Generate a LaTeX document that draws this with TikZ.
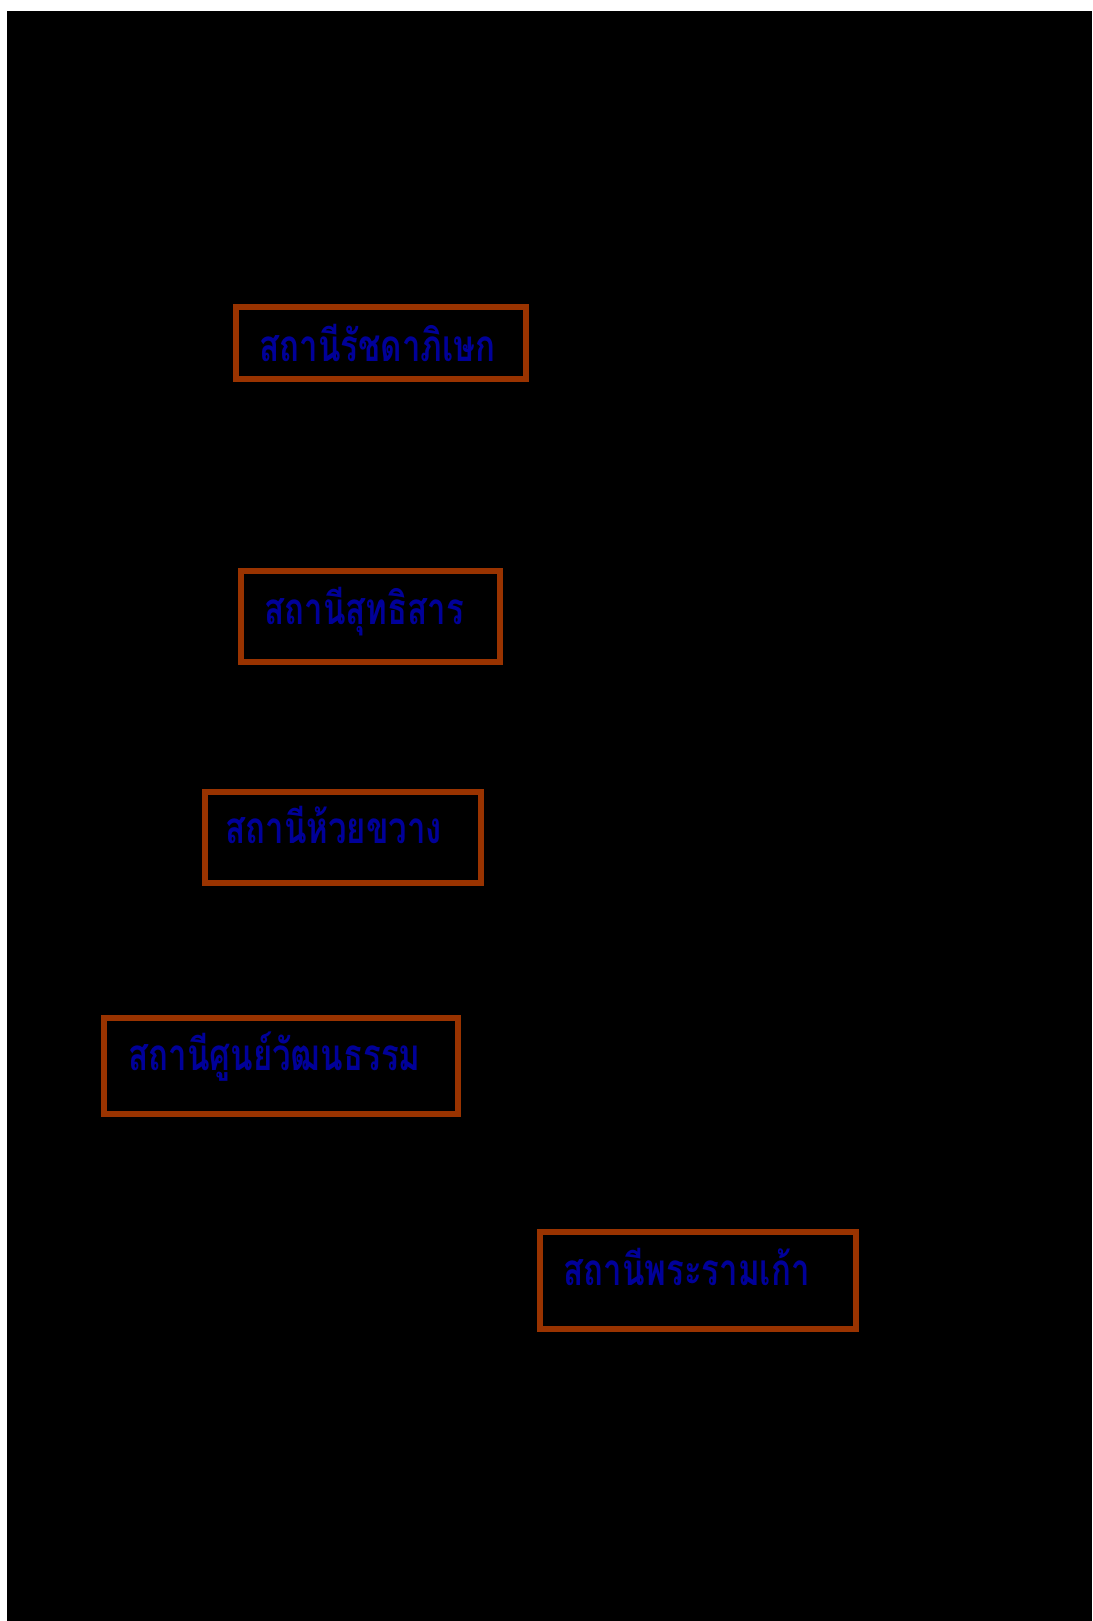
\documentclass[tikz,border=0pt]{standalone}
\usepackage{fontspec}
\newfontfamily\thaifont[Script=Thai, FakeStretch=0.75]{Loma}
\begin{document}
\begin{tikzpicture}[x=0.5pt, y=-0.5pt,
   stationbox/.style={draw=boxcol, line width=3pt, anchor=north west, inner sep=0pt},
   stationname/.style={anchor=base west, inner sep=0pt, text=namecol, font=\thaifont\bfseries\fontsize{22}{26}\selectfont}]
      \definecolor{boxcol}{HTML}{993300}
      \definecolor{namecol}{HTML}{000099}
      \useasboundingbox (0,0) rectangle (1092,1621);
      \fill[white] (0,0) rectangle (1092,1621);
      \fill[black] (7,11) rectangle (1092,1621);

      \node[stationbox, minimum width=145pt, minimum height=36pt, name=ratchada] at (233,304) {};
      \node[stationbox, minimum width=129.5pt, minimum height=45.5pt, name=sutthisan] at (238,568) {};
      \node[stationbox, minimum width=138pt, minimum height=45.5pt, name=huaykwang] at (202,789) {};
      \node[stationbox, minimum width=177pt, minimum height=48pt, name=culture] at (101,1015) {};
      \node[stationbox, minimum width=158pt, minimum height=48.5pt, name=rama] at (537,1229) {};

      \node[stationname, name=ratchadatext] at (259,361) {สถานีรัชดาภิเษก};
      \node[stationname, name=sutthisantext] at (264,624) {สถานีสุทธิสาร};
      \node[stationname, name=huaykwangtext] at (225,843) {สถานีห้วยขวาง};
      \node[stationname, name=culturetext] at (128,1070) {สถานีศูนย์วัฒนธรรม};
      \node[stationname, name=ramatext] at (563,1285) {สถานีพระรามเก้า};
   \end{tikzpicture}
\end{document}
